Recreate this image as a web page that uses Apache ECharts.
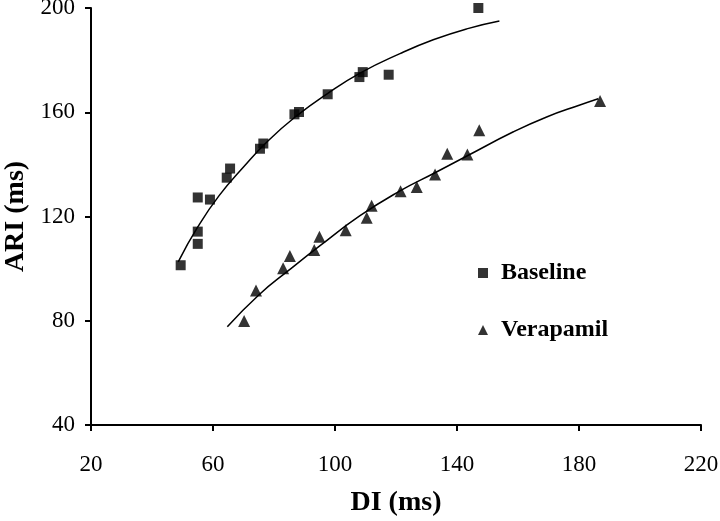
<!DOCTYPE html>
<html>
<head>
<meta charset="utf-8">
<script src="https://cdn.jsdelivr.net/npm/echarts@6/dist/echarts.min.js"></script>
<style>
html,body{margin:0;padding:0;background:#fff;}
#chart{width:720px;height:521px;}
</style>
</head>
<body>
<div id="chart"></div>
<script>
// Baseline measurements
var baselineDI  = [49.4, 55, 55, 55, 59, 64.5, 65.6, 75.4, 76.5, 86.7, 88.2, 97.6, 108, 109.1, 117.6, 147];
var baselineARI = [101.3, 109.5, 114.2, 127.3, 126.5, 134.9, 138.4, 146, 148, 159.2, 160.1, 166.9, 173.5, 175.4, 174.4, 200];
// Verapamil measurements
var verapamilDI  = [70.2, 74.1, 83, 85.2, 93.2, 94.9, 103.5, 110.4, 112, 121.5, 126.8, 132.8, 136.8, 143.4, 147.3, 186.9];
var verapamilARI = [79.9, 91.6, 100.1, 104.8, 107.1, 112.2, 114.7, 119.5, 124.1, 129.7, 131.3, 136.1, 144.1, 143.8, 153.1, 164.3];
// Trend lines
var baselineFitDI  = [48.6, 55, 62, 70, 78, 87.4, 97.3, 108.5, 121.3, 132.2, 143.2, 153.9];
var baselineFitARI = [102.6, 116, 128, 139, 149, 158.6, 167, 175.2, 182.5, 187.8, 192, 195];
var verapamilFitDI  = [64.7, 75.1, 85, 95.1, 108.2, 121.3, 132.8, 143.4, 158.5, 169.4, 180.3, 186.3];
var verapamilFitARI = [77.7, 90, 99.5, 108.8, 120.3, 129.8, 136.8, 143.3, 152.5, 158.2, 162.8, 165.2];
// Axis ticks
var xTicks = [20, 60, 100, 140, 180, 220];
var yTicks = [40, 80, 120, 160, 200];

function zip(a, b) { return a.map(function (v, i) { return [v, b[i]]; }); }

var FONT = '"Liberation Serif", "Times New Roman", serif';
var chart = echarts.init(document.getElementById('chart'), null, {renderer: 'canvas'});

var axisCommon = {
  type: 'value',
  splitLine: {show: false},
  axisLine: {show: true, onZero: false, lineStyle: {color: '#000', width: 2}},
  axisTick: {show: true, inside: false, length: 6, lineStyle: {color: '#000', width: 2}},
  axisLabel: {color: '#000', fontFamily: FONT, fontSize: 23},
  nameTextStyle: {color: '#000', fontFamily: FONT, fontSize: 28, fontWeight: 'bold'}
};

chart.setOption({
  animation: false,
  backgroundColor: '#fff',
  grid: {left: 91, right: 19, top: 8, bottom: 96, containLabel: false, outerBoundsMode: 'none'},
  xAxis: Object.assign({}, axisCommon, {
    min: xTicks[0], max: xTicks[xTicks.length - 1], interval: 40,
    name: 'DI (ms)', nameLocation: 'middle', nameGap: 64,
    axisLabel: Object.assign({}, axisCommon.axisLabel, {margin: 28})
  }),
  yAxis: Object.assign({}, axisCommon, {
    min: yTicks[0], max: yTicks[yTicks.length - 1], interval: 40,
    name: 'ARI (ms)', nameLocation: 'middle', nameGap: 54, nameRotate: 90,
    axisLabel: Object.assign({}, axisCommon.axisLabel, {margin: 16})
  }),
  legend: {
    orient: 'vertical', left: 473, top: 254, itemGap: 29,
    itemWidth: 10, itemHeight: 10,
    textStyle: {color: '#000', fontFamily: FONT, fontSize: 24, fontWeight: 'bold', lineHeight: 28, padding: [0, 0, 0, 8]},
    data: [{name: 'Baseline', icon: 'rect'}, {name: 'Verapamil', icon: 'triangle'}]
  },
  series: [
    {name: 'Baseline', type: 'scatter', symbol: 'rect', symbolSize: 10, clip: false,
     itemStyle: {color: '#000'}, data: zip(baselineDI, baselineARI), z: 3},
    {name: 'Verapamil', type: 'scatter', symbol: 'triangle', symbolSize: 12,
     itemStyle: {color: '#000'}, data: zip(verapamilDI, verapamilARI), z: 3},
    {name: 'Baseline fit', type: 'line', smooth: true, showSymbol: false, symbol: 'none',
     lineStyle: {color: '#000', width: 1.5}, data: zip(baselineFitDI, baselineFitARI), z: 2},
    {name: 'Verapamil fit', type: 'line', smooth: true, showSymbol: false, symbol: 'none',
     lineStyle: {color: '#000', width: 1.5}, data: zip(verapamilFitDI, verapamilFitARI), z: 2}
  ]
});
</script>
</body>
</html>
